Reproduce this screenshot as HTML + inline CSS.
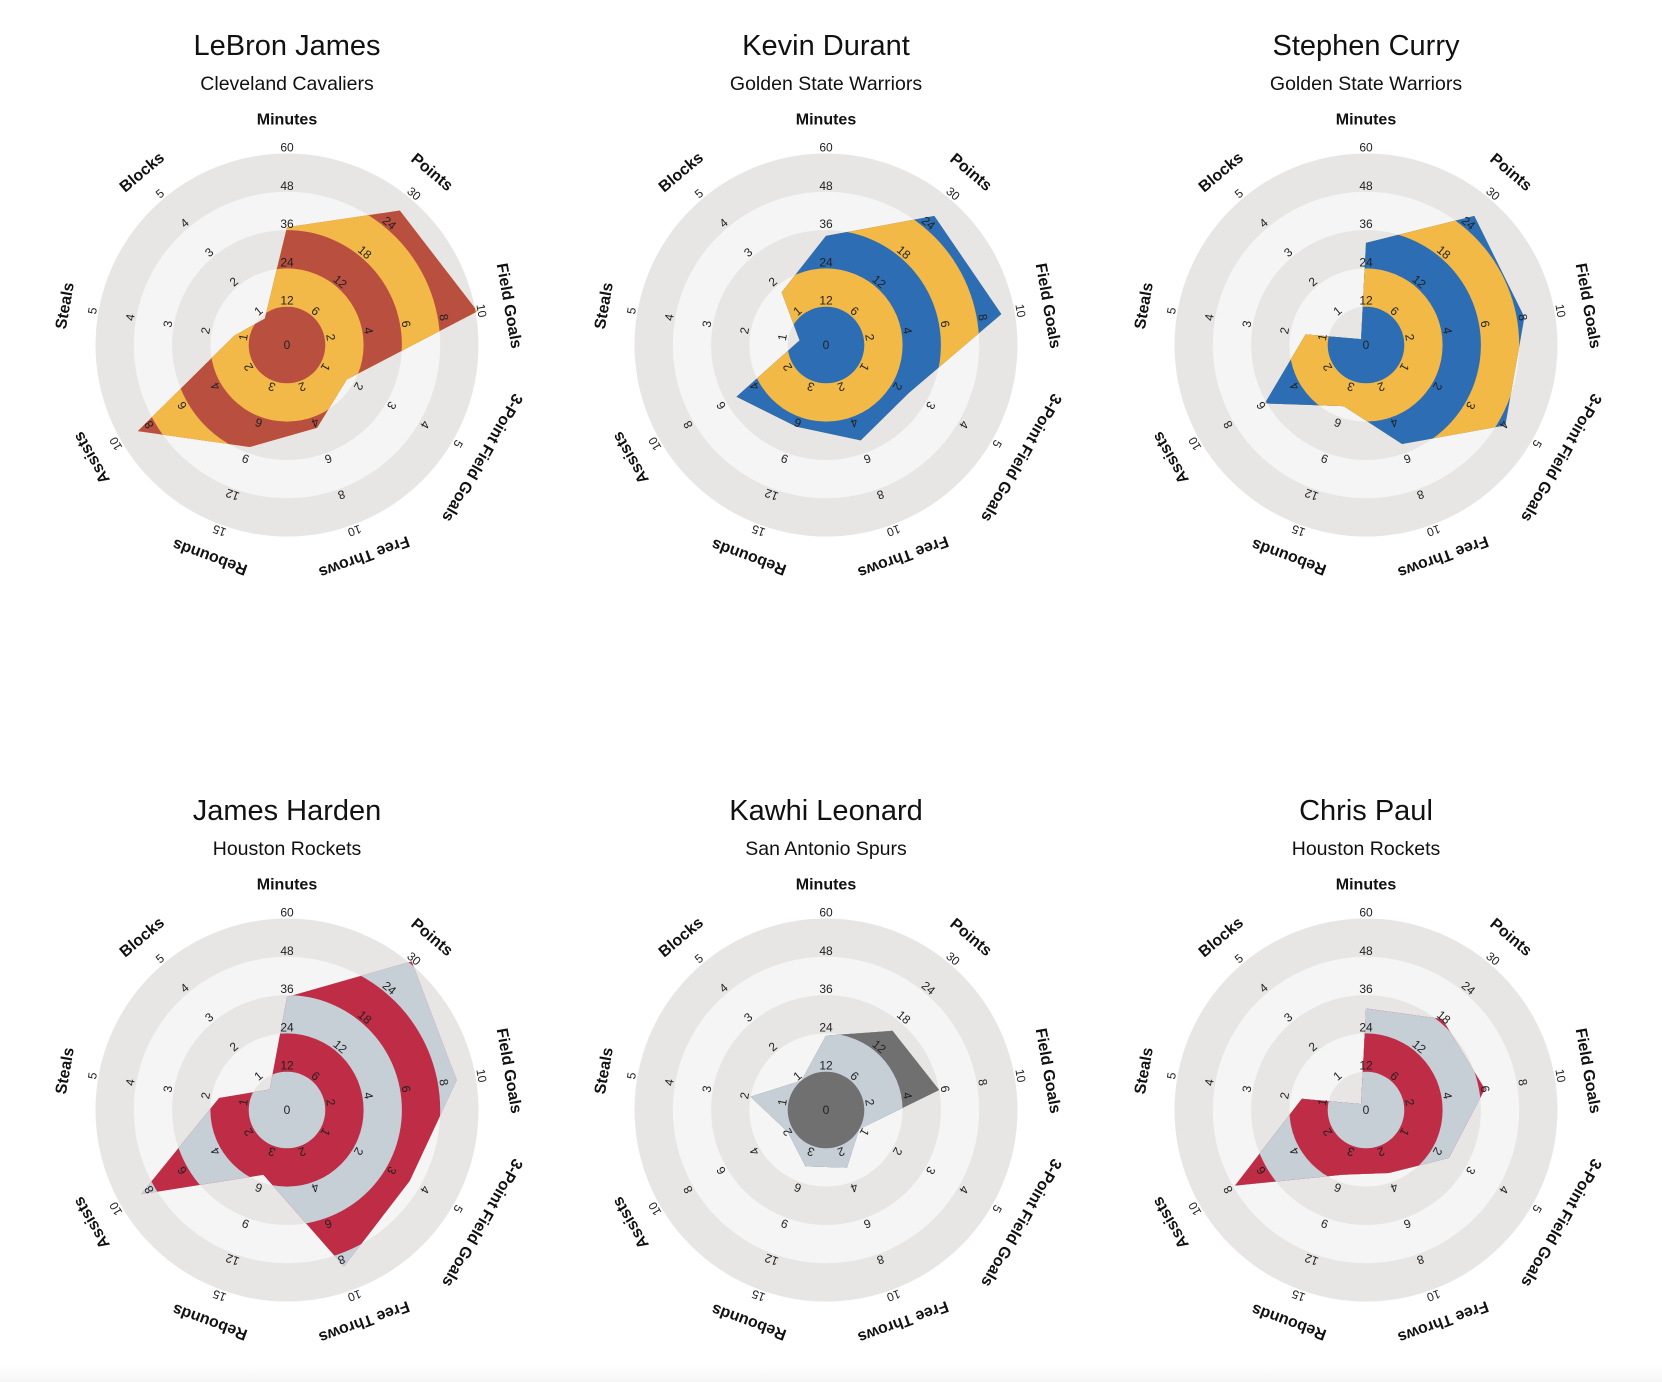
<!DOCTYPE html>
<html><head><meta charset="utf-8">
<style>
html,body{margin:0;padding:0;background:#fff;}
body{width:1662px;height:1382px;overflow:hidden;background:linear-gradient(to bottom,#fff 0,#fff 1365px,#f6f6f6 1382px);}
svg{display:block;font-family:"Liberation Sans",sans-serif;}
.title{font-size:29px;fill:#111;}
.sub{font-size:19.5px;fill:#111;}
.axl{font-size:16px;font-weight:bold;fill:#111;}
.tick{font-size:12px;fill:#222;}
</style></head>
<body>
<svg id="chart" width="1662" height="1382"></svg>
<script>
const axes = ["Minutes","Points","Field Goals","3-Point Field Goals","Free Throws","Rebounds","Assists","Steals","Blocks"];
const axisMax = [60,30,10,5,10,15,10,5,5];
const players = ["LeBron James","Kevin Durant","Stephen Curry","James Harden","Kawhi Leonard","Chris Paul"];
const teams = ["Cleveland Cavaliers","Golden State Warriors","Golden State Warriors","Houston Rockets","San Antonio Spurs","Houston Rockets"];
const lebron = [36.9,27.5,10.1,1.8,4.6,8.5,9.0,1.4,0.9];
const durant = [34.2,26.4,9.3,2.5,5.3,6.8,5.4,0.7,1.8];
const curry = [32.0,26.4,8.4,4.2,5.5,5.1,6.1,1.6,0.2];
const harden = [35.4,30.4,9.0,3.7,8.7,5.4,8.8,1.8,0.7];
const kawhi = [23.3,16.2,6.0,1.0,3.2,4.7,2.3,2.0,1.0];
const paul = [31.8,18.6,6.3,2.5,3.5,5.4,7.9,1.7,0.2];
const colorsA = ["#b94f3f","#2d6db3","#2d6db3","#c6ced6","#707070","#c6ced6"];
const colorsB = ["#f3b948","#f2b946","#f2b946","#be2c45","#c6ced6","#be2c45"];

const NS="http://www.w3.org/2000/svg";
const svg=document.getElementById('chart');
const series=[lebron,durant,curry,harden,kawhi,paul];
const R=191.5, NB=5;
const centersX=[287,826,1366], centersY=[345,1110];
function mk(tag,attrs,parent){const e=document.createElementNS(NS,tag);for(const k in attrs)e.setAttribute(k,attrs[k]);parent.appendChild(e);return e;}
function rScale(v,i){return v/axisMax[i]*R;}
function angle(i){return i*360/axes.length;}
function pt(v,i){const a=angle(i)*Math.PI/180,r=rScale(v,i);return [Math.sin(a)*r,-Math.cos(a)*r];}

players.forEach((name,p)=>{
  const cx=centersX[p%3], cy=centersY[Math.floor(p/3)];
  const g=mk('g',{transform:`translate(${cx},${cy})`},svg);
  
  
  const t=mk('text',{x:0,y:-290,'text-anchor':'middle',class:'title'},g);
  t.textContent=name;
  
  
  const s=mk('text',{x:0,y:-255,'text-anchor':'middle',class:'sub'},g);
  s.textContent=teams[p];
  
  
  for(let b=NB;b>=1;b--){
    const c=mk('circle',{r:R*b/NB,fill:(b%2===1)?'#e7e6e5':'#f5f5f5'},g);
    
    
  }
  const pts=series[p].map((v,i)=>pt(v,i).join(',')).join(' ');
  const cid='clip'+p;
  const defs=mk('defs',{},g);
  const cp=mk('clipPath',{id:cid},defs);
  mk('polygon',{points:pts},cp);
  const poly=mk('polygon',{points:pts,fill:colorsB[p]},g);
  
  
  const cg=mk('g',{'clip-path':`url(#${cid})`},g);
  for(let b=NB;b>=1;b--){
    const c=mk('circle',{r:R*b/NB,fill:(b%2===1)?colorsA[p]:colorsB[p]},cg);
    
    
  }
  axes.forEach((ax,i)=>{
    const a=angle(i);
    for(let k=1;k<=NB;k++){
      const val=axisMax[i]*k/NB;
      const tx=mk('text',{transform:`rotate(${a}) translate(0,${-(R*k/NB+2)})`,'text-anchor':'middle',class:'tick'},g);
      tx.textContent=String(Math.round(val*100)/100);
      
      
    }
    const al=mk('text',{transform:`rotate(${a}) translate(0,${-(R+29)})`,'text-anchor':'middle',class:'axl'},g);
    al.textContent=ax;
    
    
  });
  const z=mk('text',{x:0,y:4,'text-anchor':'middle',class:'tick'},g);
  z.textContent='0';
  
  
});
</script>
</body></html>
